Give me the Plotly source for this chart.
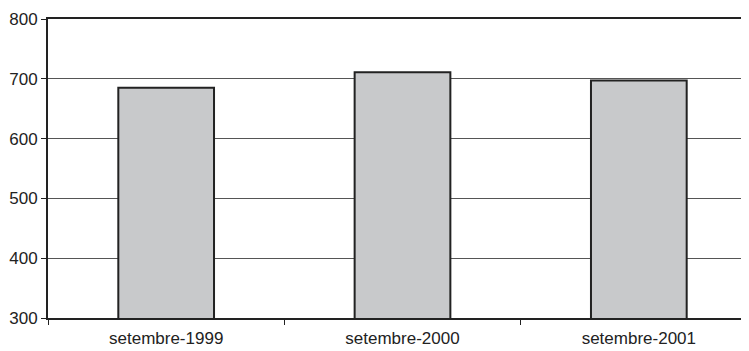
import plotly.graph_objects as go

categories = ["setembre-1999", "setembre-2000", "setembre-2001"]
values = [685, 711, 697]
y_ticks = [300, 400, 500, 600, 700, 800]

fig = go.Figure(go.Bar(
    x=categories, y=values, width=0.405,
    marker=dict(color="#c8c9cb", line=dict(color="#222222", width=2)),
))

fig.update_layout(
    width=749, height=351,
    margin=dict(l=40, r=0, t=11, b=41),
    paper_bgcolor="white", plot_bgcolor="white",
    font=dict(family="Liberation Sans, Arial, sans-serif", size=17, color="#222222"),
    showlegend=False,
)
fig.update_xaxes(
    type="category", automargin=False,
    range=[-0.5, 2.5],
    showline=True, linecolor="#222222", linewidth=2, mirror=True,
    ticks="outside", tickson="boundaries", ticklen=5, tickcolor="#222222", tickwidth=1,
    ticklabelstandoff=4,
    showgrid=False,
)
fig.update_yaxes(
    range=[300, 800], tickvals=y_ticks, automargin=False,
    showline=True, linecolor="#222222", linewidth=2,
    ticks="outside", ticklen=5, tickcolor="#222222", tickwidth=1,
    showgrid=True, gridcolor="#555555", gridwidth=1,
    zeroline=False,
)

fig.write_html("out.html")
